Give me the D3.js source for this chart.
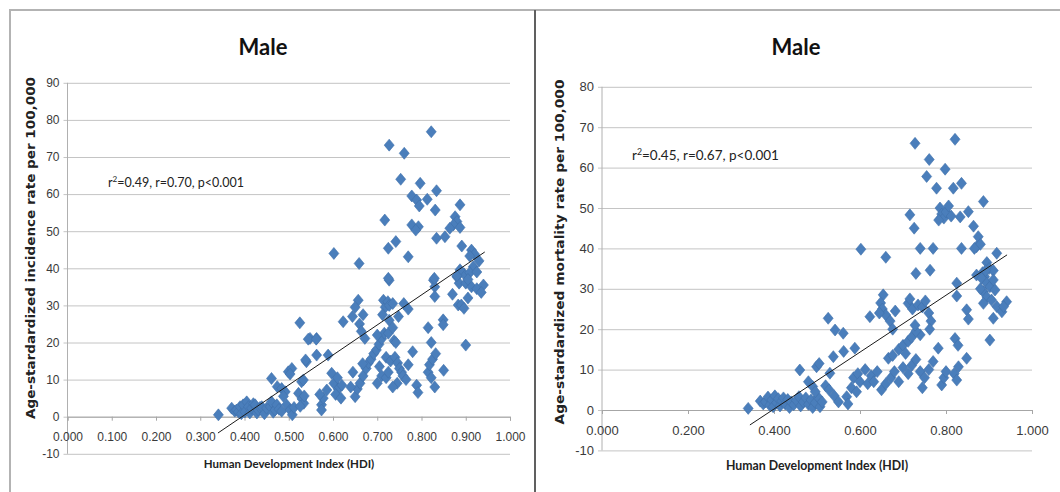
<!DOCTYPE html>
<meta charset="utf-8">
<style>
body { margin: 0; background: #fff; }
svg { font-family: "Lato", "Open Sans", sans-serif; }
.grid line { stroke: #c4c4c4; stroke-width: 1; }
.grid path { display: none; }
.tick text { fill: #3a3a3a; }
.xaxis path, .xaxis line { stroke: #a6a6a6; }
.dot { fill: #4a7ebb; stroke: #3f70ab; stroke-width: 0.6; }
.trend { stroke: #1a1a1a; stroke-width: 1; }
.ylab { font-family: "DejaVu Sans", sans-serif; font-weight: bold; fill: #222; }
</style>
<body>
<script src="https://d3js.org/d3.v7.min.js"></script>
<script>

// ticks
var incTicksY = [-10, 0, 10, 20, 30, 40, 50, 60, 70, 80, 90];
var incTicksX = [0, 0.1, 0.2, 0.3, 0.4, 0.5, 0.6, 0.7, 0.8, 0.9, 1.0];
var morTicksY = [-10, 0, 10, 20, 30, 40, 50, 60, 70, 80];
var morTicksX = [0, 0.2, 0.4, 0.6, 0.8, 1.0];

// fitted lines (HDI, rate)
var incTrend = [[0.340, -4.4], [0.943, 44.4]];
var morTrend = [[0.344, -3.7], [0.942, 38.4]];

// male incidence: [HDI, rate]
var incidence = [
  [0.341,0.5],[0.371,2.3],[0.378,1.5],[0.382,1.8],[0.386,1.3],[0.390,2.7],[0.393,0.8],[0.397,3.2],
  [0.401,1.3],[0.405,4.0],[0.409,2.7],[0.412,1.0],[0.416,2.3],[0.420,3.5],[0.424,3.2],[0.428,1.0],
  [0.431,1.8],[0.435,2.5],[0.439,2.7],[0.445,0.8],[0.450,2.3],[0.458,2.7],[0.461,4.0],[0.465,1.2],
  [0.469,1.8],[0.473,3.2],[0.478,2.0],[0.484,1.5],
  [0.461,10.3],[0.474,8.1],[0.484,7.6],[0.492,6.7],[0.488,5.5],[0.495,3.2],[0.503,1.8],[0.508,0.5],
  [0.512,2.5],[0.499,12.1],[0.507,13.0],[0.503,11.5],[0.529,9.4],[0.522,6.3],[0.530,4.8],[0.534,3.6],
  [0.526,2.8],[0.540,14.8],[0.533,9.9],[0.535,5.6],[0.548,21.1],[0.525,25.3],[0.563,21.1],[0.544,20.9],
  [0.562,20.9],[0.563,16.6],[0.538,15.3],[0.589,16.6],[0.574,3.2],[0.574,1.8],[0.578,5.0],[0.570,6.0],
  [0.586,7.2],[0.597,11.7],[0.602,9.0],[0.610,10.5],[0.612,7.5],[0.606,6.0],[0.618,5.0],[0.620,8.5],
  [0.602,44.0],[0.623,25.6],[0.644,27.0],[0.659,41.3],[0.657,31.4],[0.650,29.5],[0.668,27.5],[0.660,25.0],
  [0.664,23.0],[0.672,21.1],[0.650,5.4],[0.655,7.5],[0.661,9.0],[0.668,11.0],[0.675,13.0],[0.680,14.5],
  [0.686,15.5],[0.692,17.0],[0.698,18.0],[0.704,19.5],[0.710,21.0],[0.716,22.5],[0.645,12.0],[0.667,14.3],
  [0.640,8.0],[0.700,9.0],[0.710,11.0],[0.705,13.5],[0.720,10.5],[0.725,12.0],[0.714,31.4],[0.718,29.5],
  [0.712,27.5],[0.724,31.0],[0.727,30.0],[0.735,30.5],[0.727,26.0],[0.748,27.0],[0.700,22.0],[0.725,22.5],
  [0.738,20.5],[0.742,20.0],[0.735,24.0],[0.720,16.0],[0.730,15.0],[0.740,16.0],[0.746,14.5],[0.750,13.0],
  [0.755,12.0],[0.745,9.0],[0.735,8.0],[0.758,11.0],[0.765,10.0],[0.770,14.0],[0.780,17.5],[0.789,8.5],
  [0.792,6.5],[0.815,12.0],[0.818,14.0],[0.825,15.5],[0.822,10.5],[0.832,17.0],[0.815,24.0],[0.822,20.0],
  [0.849,26.1],[0.849,24.8],[0.900,19.3],[0.760,30.5],[0.770,29.0],[0.830,8.0],[0.850,12.5],
  [0.727,36.8],[0.827,36.8],[0.830,35.0],[0.830,32.4],[0.880,37.7],[0.885,36.0],[0.896,38.5],[0.900,36.0],
  [0.913,35.0],[0.925,34.5],[0.940,35.5],[0.935,33.5],[0.883,30.1],[0.890,30.1],[0.896,29.2],[0.905,32.0],
  [0.870,33.0],
  [0.822,76.8],[0.727,73.2],[0.761,71.0],[0.753,64.0],[0.797,62.9],[0.834,60.9],[0.778,59.5],[0.789,58.4],
  [0.813,58.6],[0.795,56.8],[0.831,55.7],[0.887,57.1],[0.717,53.0],[0.778,51.7],[0.793,51.2],[0.787,50.3],
  [0.876,53.9],[0.880,52.6],[0.872,51.7],[0.864,50.8],[0.887,51.0],[0.834,48.1],[0.853,48.5],[0.742,47.2],
  [0.725,45.4],[0.891,46.0],[0.913,44.9],[0.920,43.8],[0.909,43.3],[0.770,43.1],[0.725,37.3],[0.829,37.3],
  [0.917,40.4],[0.909,38.8],[0.887,39.6],[0.880,38.0],[0.905,37.0],[0.925,39.0],[0.930,42.0]
];

// male mortality: [HDI, rate]
var mortality = [
  [0.340,0.4],[0.368,2.2],[0.375,1.5],[0.380,2.0],[0.386,3.2],[0.390,1.2],[0.395,2.5],[0.398,0.8],
  [0.402,3.5],[0.406,1.8],[0.410,2.8],[0.414,1.0],[0.418,2.2],[0.422,3.0],[0.426,1.5],[0.432,2.6],
  [0.436,0.6],[0.440,2.0],[0.446,1.3],[0.452,2.4],[0.458,3.3],[0.462,1.0],[0.468,2.0],[0.474,3.0],
  [0.480,1.4],[0.486,2.5],[0.490,0.6],[0.496,1.8],[0.502,3.2],[0.507,0.8],[0.512,2.0],
  [0.460,9.9],[0.480,7.0],[0.490,5.8],[0.496,4.5],[0.499,10.7],[0.505,11.5],[0.530,9.1],[0.520,6.0],
  [0.528,5.0],[0.540,3.5],[0.550,2.0],[0.526,22.7],[0.542,19.8],[0.561,19.0],[0.538,13.2],[0.562,14.5],
  [0.588,15.3],[0.569,3.3],[0.572,1.5],[0.580,5.5],[0.585,8.0],[0.595,9.0],[0.600,7.0],[0.592,4.5],
  [0.612,10.0],[0.618,6.5],[0.626,8.5],[0.632,7.0],[0.640,9.5],[0.602,39.8],[0.660,37.8],[0.654,28.5],
  [0.648,26.5],[0.652,25.0],[0.660,23.5],[0.645,24.0],[0.623,23.1],[0.670,22.0],[0.676,20.0],[0.682,24.5],
  [0.666,12.8],[0.676,13.5],[0.690,15.0],[0.700,16.0],[0.706,14.0],[0.712,17.0],[0.720,18.0],[0.740,18.6],
  [0.730,19.5],[0.728,21.0],[0.712,26.4],[0.716,27.5],[0.722,25.0],[0.735,26.0],[0.745,25.5],[0.752,27.0],
  [0.760,24.0],[0.765,22.0],[0.762,20.0],[0.650,5.0],[0.660,6.5],[0.672,8.0],[0.680,9.5],[0.690,7.0],
  [0.700,10.5],[0.712,9.0],[0.720,11.0],[0.730,12.5],[0.740,9.5],[0.750,8.0],[0.745,5.5],[0.760,10.0],
  [0.770,12.0],[0.782,15.3],[0.790,6.2],[0.795,8.0],[0.800,9.5],[0.819,9.0],[0.825,7.4],[0.829,10.7],
  [0.848,12.8],[0.821,17.7],[0.828,16.0],[0.730,33.8],[0.763,34.6],[0.825,31.4],[0.825,28.2],[0.848,24.8],
  [0.852,22.5],[0.902,17.3],
  [0.728,66.0],[0.821,67.0],[0.761,62.0],[0.798,59.6],[0.755,57.8],[0.778,54.9],[0.817,54.9],[0.836,56.1],
  [0.887,51.6],[0.786,50.0],[0.790,48.5],[0.795,47.5],[0.800,49.0],[0.806,50.5],[0.783,47.0],[0.812,48.0],
  [0.716,48.3],[0.726,45.0],[0.833,47.8],[0.852,49.1],[0.864,45.5],[0.875,42.9],[0.871,40.4],[0.880,41.0],
  [0.866,40.0],[0.740,40.0],[0.770,40.0],[0.836,40.0],[0.918,38.8],[0.895,36.5],[0.900,35.0],[0.910,34.5],
  [0.885,34.0],[0.890,33.0],[0.871,33.4],[0.883,32.6],[0.895,31.4],[0.902,30.5],[0.910,32.2],[0.914,29.7],
  [0.887,29.3],[0.895,28.0],[0.906,27.2],[0.887,26.4],[0.918,25.6],[0.910,22.7],[0.930,24.3],[0.941,26.8],
  [0.934,25.6],[0.880,30.0],[0.892,34.5]
];

var svg = d3.select("body").append("svg")
    .attr("width", 1060)
    .attr("height", 492);

// panel frames
svg.append("path")
    .attr("d", "M10,492 V10 H1060")
    .attr("fill", "none").attr("stroke", "#b3b3b3").attr("stroke-width", 2);
svg.append("line")
    .attr("x1", 535).attr("x2", 535).attr("y1", 10).attr("y2", 492)
    .attr("stroke", "#606060").attr("stroke-width", 2);

var diamond = "M0,-6L5,0L0,6L-5,0Z";

function drawPanel(o) {
  var x = d3.scaleLinear().domain([0, 1]).range([o.x0, o.x1]);
  var y = d3.scaleLinear().domain([o.yTicks[0], o.yTicks[o.yTicks.length - 1]]).range([o.yB, o.yT]);
  var g = svg.append("g");

  // horizontal grid + y tick labels
  var gy = g.append("g")
      .attr("class", "grid")
      .attr("transform", "translate(" + o.x0 + ",0)")
      .call(d3.axisLeft(y).tickValues(o.yTicks).tickFormat(function(d) { return String(d); })
              .tickSize(-(o.x1 - o.x0)).tickPadding(8));
  gy.selectAll(".tick line").attr("x1", -4);
  gy.selectAll(".tick text").style("font-size", o.tickFont + "px");

  // vertical axis line
  g.append("line")
      .attr("x1", o.x0).attr("x2", o.x0)
      .attr("y1", y(o.yTicks[0])).attr("y2", y(o.yTicks[o.yTicks.length - 1]))
      .attr("stroke", "#b0b0b0");

  // x axis crossing at 0
  var gx = g.append("g")
      .attr("class", "xaxis")
      .attr("transform", "translate(0," + y(0) + ")")
      .call(d3.axisBottom(x).tickValues(o.xTicks).tickFormat(d3.format(".3f"))
              .tickSizeOuter(0).tickSize(4).tickPadding(o.xPad));
  gx.selectAll(".tick text").style("font-size", o.tickFont + "px");

  // points
  g.selectAll(".dot")
      .data(o.data)
      .enter().append("path")
      .attr("class", "dot")
      .attr("d", diamond)
      .attr("transform", function(d) { return "translate(" + x(d[0]) + "," + y(d[1]) + ")"; });

  // trend line
  g.append("line")
      .attr("class", "trend")
      .attr("x1", x(o.trend[0][0])).attr("y1", y(o.trend[0][1]))
      .attr("x2", x(o.trend[1][0])).attr("y2", y(o.trend[1][1]));

  // title
  g.append("text")
      .attr("x", o.titleX).attr("y", 55)
      .attr("text-anchor", "middle")
      .style("font-size", "22px").style("font-weight", "bold").style("fill", "#111")
      .text("Male");

  // annotation
  var ann = g.append("text")
      .attr("x", o.annX).attr("y", o.annY)
      .style("font-size", o.annFont + "px").style("fill", "#222");
  ann.append("tspan").text("r");
  ann.append("tspan").attr("dy", -5).style("font-size", (o.annFont * 0.65) + "px").text("2");
  ann.append("tspan").attr("dy", 5).text(o.annText);

  // axis titles
  g.append("text")
      .attr("class", "ylab")
      .attr("transform", "translate(" + o.yLabX + "," + o.yLabY + ") rotate(-90)")
      .attr("text-anchor", "middle")
      .attr("textLength", o.yLabLen).attr("lengthAdjust", "spacingAndGlyphs")
      .style("font-size", o.yLabFont + "px")
      .text(o.yLabel);
  g.append("text")
      .attr("x", o.xLabX).attr("y", o.xLabY)
      .attr("text-anchor", "middle")
      .style("font-size", o.xLabFont + "px").style("font-weight", "bold").style("fill", "#222")
      .text("Human Development Index (HDI)");
}

drawPanel({
  data: incidence, trend: incTrend, xTicks: incTicksX, yTicks: incTicksY,
  x0: 67.5, x1: 510, yB: 453.8, yT: 82.8,
  tickFont: 12, xPad: 12,
  titleX: 263,
  annX: 108, annY: 187, annFont: 12.5, annText: "=0.49, r=0.70, p<0.001",
  yLabel: "Age-stardardized incidence rate per 100,000", yLabX: 35, yLabY: 248, yLabFont: 11.5, yLabLen: 342,
  xLabX: 289, xLabY: 468, xLabFont: 11.5
});

drawPanel({
  data: mortality, trend: morTrend, xTicks: morTicksX, yTicks: morTicksY,
  x0: 602, x1: 1032, yB: 450.4, yT: 86.8,
  tickFont: 13, xPad: 12,
  titleX: 796,
  annX: 632, annY: 160, annFont: 13.5, annText: "=0.45, r=0.67, p<0.001",
  yLabel: "Age-stardardized mortality rate per 100,000", yLabX: 564, yLabY: 252, yLabFont: 12, yLabLen: 345,
  xLabX: 817, xLabY: 470, xLabFont: 12.3
});

</script>
</body>
